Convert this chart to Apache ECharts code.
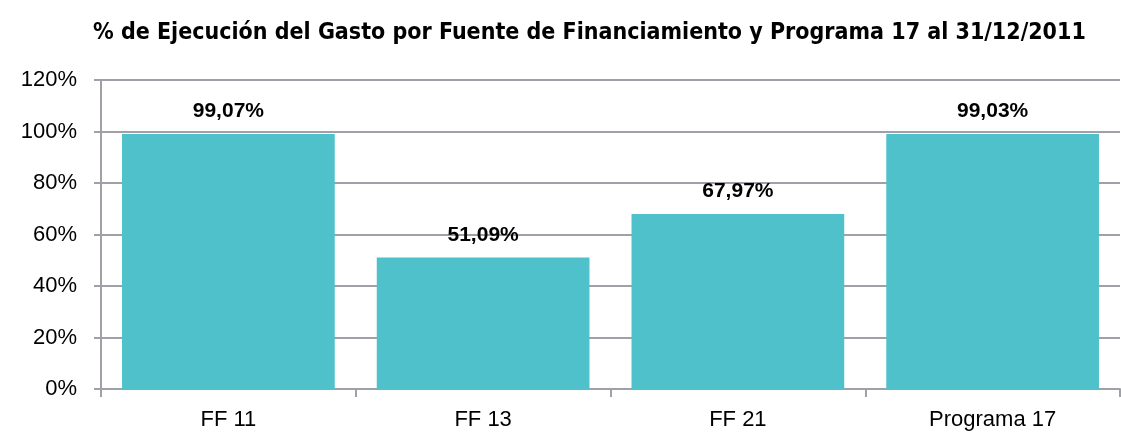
<!DOCTYPE html>
<html>
<head>
<meta charset="utf-8">
<style>
  html, body { margin: 0; padding: 0; background: #fff; }
  #chart { width: 1121px; height: 432px; }
</style>
<script src="https://cdn.jsdelivr.net/npm/echarts@6/dist/echarts.min.js"></script>
</head>
<body>
<div id="chart"></div>
<script>
// categorías y porcentajes de ejecución
const categories = ['FF 11', 'FF 13', 'FF 21', 'Programa 17']
const ejecucion = [99.07, 51.09, 67.97, 99.03]

const chart = echarts.init(document.getElementById('chart'))

chart.setOption({
  animation: false,
  title: {
    text: '% de Ejecución del Gasto por Fuente de Financiamiento y Programa 17 al 31/12/2011',
    left: 88,
    top: 17,
    textStyle: {
      fontFamily: '"DejaVu Sans Condensed", "Liberation Sans", sans-serif',
      fontWeight: 'bold',
      fontSize: 23,
      color: '#000'
    }
  },
  grid: {
    left: 101,
    right: 1,
    top: 80,
    bottom: 43
  },
  xAxis: {
    type: 'category',
    data: categories,
    axisLine: { lineStyle: { color: '#a0a0a8', width: 2 } },
    axisTick: { show: true, length: 8, lineStyle: { color: '#a0a0a8', width: 2 } },
    axisLabel: {
      color: '#000',
      fontFamily: 'Liberation Sans',
      fontSize: 22,
      margin: 20
    }
  },
  yAxis: {
    type: 'value',
    min: 0,
    max: 120,
    interval: 20,
    axisLine: { show: true, lineStyle: { color: '#a0a0a8', width: 2 } },
    axisTick: { show: true, length: 7, lineStyle: { color: '#a0a0a8', width: 2 } },
    splitLine: { lineStyle: { color: '#a0a0a8', width: 2 } },
    axisLabel: {
      color: '#000',
      fontFamily: 'Liberation Sans',
      fontSize: 22,
      margin: 24,
      formatter: v => v + '%'
    }
  },
  series: [{
    type: 'bar',
    data: ejecucion,
    barCategoryGap: '16.5%',
    itemStyle: { color: '#4fc1cb' },
    label: {
      show: true,
      position: 'top',
      distance: 12,
      color: '#000',
      fontFamily: 'Liberation Sans',
      fontWeight: 'bold',
      fontSize: 21,
      formatter: p => p.value.toFixed(2).replace('.', ',') + '%'
    }
  }]
})
</script>
</body>
</html>
